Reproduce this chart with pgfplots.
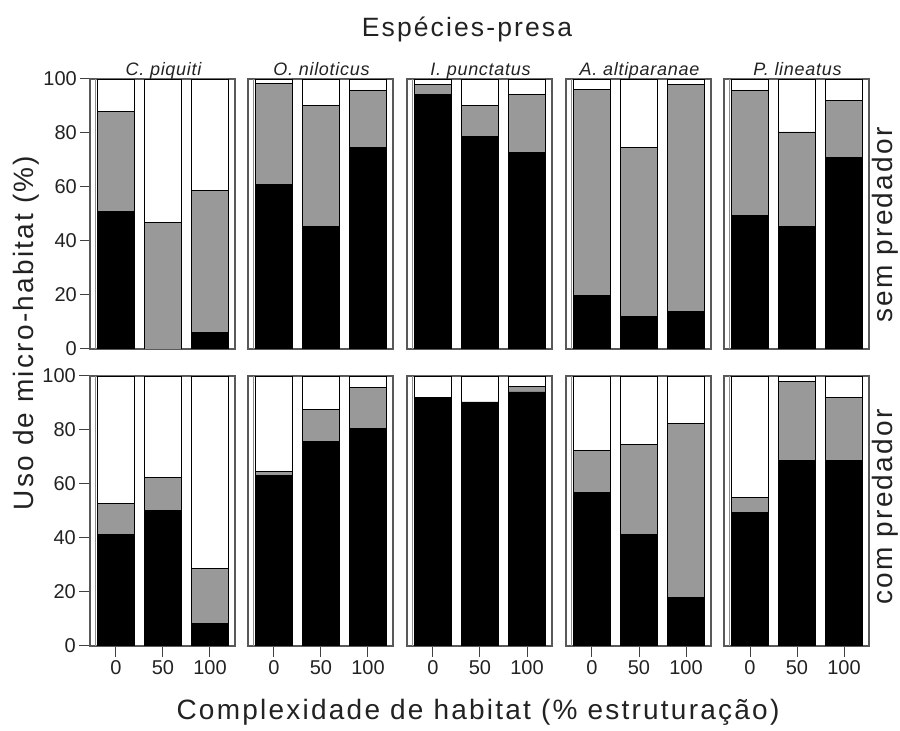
\documentclass[border=0pt]{standalone}
\usepackage{pgfplots}
\usepackage{pgfplotstable}
\pgfplotsset{compat=1.18}
\usepackage{fontspec}
\setmainfont{Liberation Sans}
\newfontfamily\bigfont[LetterSpace=8]{Liberation Sans}
\newfontfamily\spfont[LetterSpace=4]{Liberation Sans}
\definecolor{midgray}{HTML}{999999}
\definecolor{txt}{HTML}{222222}

% top row: sem predador  (b = black, g = gray, w = white)
\pgfplotstableread{
x b g w
0 51.0 37.0 12.0
1 0.0 47.0 53.0
2 6.0 52.7 41.3
}\tA
\pgfplotstableread{
x b g w
0 61.0 37.4 1.6
1 45.5 44.6 9.9
2 74.8 21.1 4.1
}\tB
\pgfplotstableread{
x b g w
0 94.4 3.7 1.9
1 78.7 11.4 9.9
2 72.7 21.7 5.6
}\tC
\pgfplotstableread{
x b g w
0 19.8 76.2 4.0
1 12.0 62.6 25.4
2 13.9 84.2 1.9
}\tD
\pgfplotstableread{
x b g w
0 49.4 46.5 4.1
1 45.5 34.9 19.6
2 70.9 21.3 7.8
}\tE
% bottom row: com predador
\pgfplotstableread{
x b g w
0 41.4 11.3 47.3
1 50.3 12.1 37.6
2 8.5 20.2 71.3
}\tF
\pgfplotstableread{
x b g w
0 63.0 1.7 35.3
1 75.6 11.9 12.5
2 80.5 15.2 4.3
}\tG
\pgfplotstableread{
x b g w
0 92.2 0.0 7.8
1 90.4 0.0 9.6
2 94.1 2.1 3.8
}\tH
\pgfplotstableread{
x b g w
0 57.0 15.5 27.5
1 41.4 33.2 25.4
2 17.9 64.4 17.7
}\tI
\pgfplotstableread{
x b g w
0 49.3 5.7 45.0
1 68.8 29.2 2.0
2 68.8 23.2 8.0
}\tJ

\pgfplotsset{
  panel/.style={
    scale only axis, width=145pt, height=270pt,
    xmin=-0.553, xmax=2.532, ymin=0, ymax=100,
    ybar stacked, bar width=37pt,
    axis line style={draw=black!65, line width=1.3pt},
    xtick=\empty, ytick=\empty,
    tick align=outside, major tick length=10pt,
    tick style={draw=black!75, line width=1pt},
    /pgf/number format/assume math mode=true,
    tick label style={font=\fontsize{20}{20}\selectfont, text=txt},
  },
  leftcol/.style={ytick={0,20,...,100}, ytick pos=left,
    yticklabel style={inner xsep=3pt}},
  botrow/.style={xtick={0,1,2}, xticklabels={0,50,100}, xtick pos=bottom,
    major tick length=11pt},
}

\newcommand\panel[4]{%
  \begin{axis}[panel, at={(#2pt,#3pt)}, anchor=south west, #4]
    \draw[black!45, line width=0.9pt] ([xshift=5pt]rel axis cs:0,0) -- ([xshift=5pt]rel axis cs:0,1);
    \addplot[fill=black, draw=black, line width=0.8pt] table[x=x,y=b]{#1};
    \addplot[fill=midgray, draw=black, line width=0.8pt] table[x=x,y=g]{#1};
    \addplot[fill=white, draw=black, line width=0.8pt] table[x=x,y=w]{#1};
  \end{axis}}

\begin{document}
\begin{tikzpicture}[x=1pt,y=1pt]
\useasboundingbox (0,0) rectangle (900,731);

\panel{\tA}{90}{382}{leftcol}
\panel{\tB}{248}{382}{}
\panel{\tC}{407}{382}{}
\panel{\tD}{566}{382}{}
\panel{\tE}{724}{382}{}

\panel{\tF}{90}{85}{leftcol,botrow}
\panel{\tG}{248}{85}{botrow}
\panel{\tH}{407}{85}{botrow}
\panel{\tI}{566}{85}{botrow}
\panel{\tJ}{724}{85}{botrow}

% title and species names
\node[anchor=base, text=txt, font=\bigfont\fontsize{26.5}{26.5}\selectfont] at (467,694) {Espécies-presa};
\begin{scope}[every node/.style={anchor=base, text=txt, font=\spfont\itshape\fontsize{18}{18}\selectfont}]
\node at (163.5,655) {C. piquiti};
\node at (321.5,655) {O. niloticus};
\node at (480.5,655) {I. punctatus};
\node at (639.5,655) {A. altiparanae};
\node at (797.5,655) {P. lineatus};
\end{scope}

% axis titles
\node[anchor=base, rotate=90, text=txt, font=\bigfont\fontsize{28}{28}\selectfont] at (33,398) {Uso de micro-habitat (\%)};
\node[anchor=base, text=txt, font=\bigfont\fontsize{28}{28}\selectfont] at (478,11) {Complexidade de habitat (\% estruturação)};
\node[anchor=base, rotate=90, text=txt, font=\bigfont\fontsize{28}{28}\selectfont] at (892,506) {sem predador};
\node[anchor=base, rotate=90, text=txt, font=\bigfont\fontsize{28}{28}\selectfont] at (892,224) {com predador};
\end{tikzpicture}
\end{document}
